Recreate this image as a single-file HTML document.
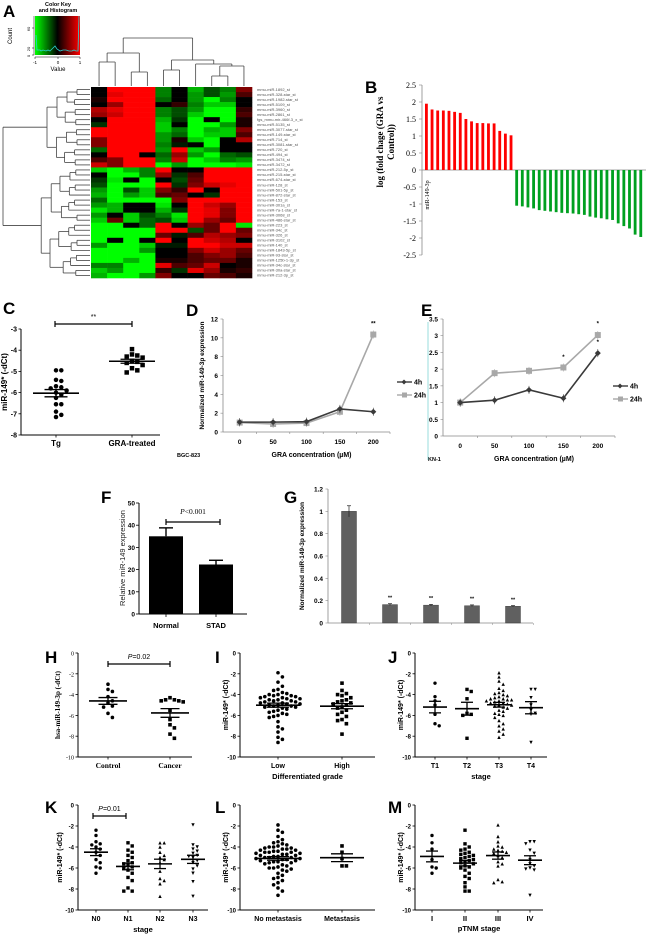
<!DOCTYPE html>
<html><head><meta charset="utf-8"><style>
html,body{margin:0;padding:0;background:#fff;}
svg{display:block;font-family:"Liberation Sans",sans-serif;}
</style></head><body>
<svg id="fig" width="650" height="935" viewBox="0 0 650 935" xmlns="http://www.w3.org/2000/svg"></svg>
<script>
// ===== DATA =====
const heatRows=["mmu-miR-1892_st","mmu-miR-328-star_st","mmu-miR-1982-star_st","mmu-miR-5109_st","mmu-miR-3960_st","mmu-miR-2861_st","fgs_mmu-mir-466f-3_x_st","mmu-miR-5135_st","mmu-miR-3077-star_st","mmu-miR-149-star_st","mmu-miR-714_st","mmu-miR-3081-star_st","mmu-miR-720_st","mmu-miR-494_st","mmu-miR-3474_st","mmu-miR-3472_st","mmu-miR-212-5p_st","mmu-miR-215-star_st","mmu-miR-674-star_st","mmu-miR-128_st","mmu-miR-501-5p_st","mmu-miR-872-star_st","mmu-miR-153_st","mmu-miR-301a_st","mmu-miR-7a-1-star_st","mmu-miR-3068_st","mmu-miR-486-star_st","mmu-miR-223_st","mmu-miR-34c_st","mmu-miR-326_st","mmu-miR-3102_st","mmu-miR-140_st","mmu-miR-1843-5p_st","mmu-miR-93-star_st","mmu-miR-125b-1-3p_st","mmu-miR-34c-star_st","mmu-miR-30a-star_st","mmu-miR-212-3p_st"];
const heatVals=[
[0,1,1,1,-.5,0,-.7,-.3,-.5,.5],[0,.9,1,1,-.5,0,-.6,-.3,-.6,.3],[.1,1,1,1,-.4,0,-.6,-1,-.5,0],[0,.6,1,1,0,.2,-.5,-.8,-.8,0],
[.7,.9,1,1,-.5,-.3,-.6,-1,-1,.2],[.6,.8,1,1,-.5,-.3,-.8,-1,-1,.3],[0,1,1,1,-.7,-.2,-1,0,-1,.1],[-.2,1,1,1,-.8,0,-1,-1,-.6,.1],
[1,1,1,1,-.8,-.5,-1,-.7,-.8,.5],[1,1,1,1,-.6,-.4,-1,-.8,-.8,.3],[.5,1,1,1,-.6,.1,-.8,-1,0,.7],[.5,1,1,1,-.5,-.1,0,-1,0,0],
[-.4,1,1,1,-.6,1,-.8,-.6,0,0],[0,1,1,0,-.4,.6,-.6,-1,-.4,-.3],[.3,.5,1,1,-.5,.8,-1,-.8,-.5,-.6],[.8,.5,1,1,-1,-.6,-1,-1,-1,-.9],
[-.8,-1,-.7,-.5,1,0,0,1,1,1],[0,-1,-1,-.5,.6,-.2,.3,1,1,1],[-.2,-.9,0,-1,0,-.3,.4,1,1,1],[-.3,-1,-1,-1,1,-.2,.5,.8,.9,1],
[-.6,-1,-.3,-.8,.5,.2,1,0,1,1],[-.7,-1,-.6,-.8,.3,.4,0,-.2,1,1],[-.4,-1,-1,-1,-1,.5,1,1,1,1],[-.6,-.7,0,0,-.9,0,1,.8,.6,1],
[-.9,-.7,0,0,-.7,-.2,1,.9,.5,1],[-.6,0,-.8,-.3,-.5,-.9,1,.9,.5,1],[-.8,.4,-.8,-.4,-.3,-.8,1,.6,.4,1],[-1,-1,0,-.4,1,0,.6,.4,1,-.9],
[-1,-1,-1,-1,1,1,-.3,.4,1,.4],[-1,-1,-1,-1,.4,-.1,.3,.7,.6,.5],[-1,0,-1,0,1,0,1,.8,.7,0],[-.6,-1,-1,-.8,-.1,-.1,1,1,.8,.8],
[-1,-1,-1,-.6,0,0,.5,.8,.6,.4],[-1,-1,-1,-1,0,0,.3,.5,.6,.3],[-1,-1,-.7,-1,.1,.1,.3,.4,.4,.1],[-.5,-.5,-1,-1,.9,.3,.4,.8,0,.1],
[-.8,-.6,-1,-1,.2,-.2,.9,.6,.1,.2],[-.7,-1,-1,-.6,.5,0,0,.4,.3,.1]];

const bRed=[1.95,1.78,1.75,1.75,1.74,1.71,1.68,1.5,1.43,1.38,1.38,1.37,1.37,1.15,1.07,1.02];
const bGreen=[-1.05,-1.07,-1.1,-1.13,-1.18,-1.2,-1.22,-1.24,-1.26,-1.27,-1.28,-1.3,-1.32,-1.37,-1.4,-1.42,-1.45,-1.47,-1.57,-1.65,-1.72,-1.9,-1.97];
const bTicks=[2.5,2,1.5,1,0.5,0,-0.5,-1,-1.5,-2,-2.5];

const cTg=[-4.95,-4.95,-5.4,-5.45,-5.7,-5.75,-5.8,-5.9,-6.0,-6.1,-6.25,-6.55,-6.55,-6.9,-7.05,-7.15];
const cGRA=[-3.95,-4.2,-4.25,-4.3,-4.35,-4.5,-4.55,-4.6,-4.7,-4.85,-4.95,-5.05];

const concCats=["0","50","100","150","200"];
const d4h=[1.05,1.05,1.1,2.45,2.15];
const d24h=[1.0,0.85,0.95,2.15,10.35];
const e4h=[1.0,1.07,1.38,1.13,2.48];
const e24h=[1.0,1.88,1.95,2.05,3.02];

const fCats=["Normal","STAD"];
const fVals=[35,22.3];
const fErr=[3.8,1.9];
const gVals=[1.0,0.165,0.16,0.155,0.15];
const gErr=[0.05,0.008,0.007,0.007,0.006];

const hControl=[-3.0,-3.5,-3.7,-4.2,-4.6,-4.8,-5.1,-5.2,-5.8,-6.2];
const hCancer=[-4.3,-4.5,-4.6,-4.7,-4.6,-4.5,-5.5,-6.4,-6.9,-7.2,-7.8,-8.2];
const iLow=[-1.9,-2.3,-2.8,-3.2,-3.5,-3.6,-3.8,-3.9,-4.0,-4.0,-4.1,-4.1,-4.2,-4.2,-4.3,-4.3,-4.4,-4.4,-4.5,-4.5,-4.6,-4.6,-4.7,-4.7,-4.8,-4.8,-4.9,-4.9,-5.0,-5.0,-5.1,-5.1,-5.2,-5.2,-5.3,-5.4,-5.5,-5.6,-5.7,-5.8,-5.9,-6.0,-6.1,-6.2,-6.6,-7.1,-7.3,-7.6,-8.1,-8.3,-8.6];
const iHigh=[-2.9,-3.6,-3.9,-4.0,-4.1,-4.3,-4.5,-4.6,-4.7,-4.8,-4.9,-5.0,-5.2,-5.3,-5.5,-5.7,-5.9,-6.1,-6.4,-6.5,-6.8,-7.8];
const jT1=[-2.9,-4.2,-4.6,-5.0,-5.9,-6.8,-7.0];
const jT2=[-3.5,-3.7,-4.4,-5.8,-5.9,-6.0,-8.2];
const jT3=[-1.9,-2.3,-2.7,-3.0,-3.4,-3.6,-3.8,-3.9,-4.0,-4.1,-4.2,-4.3,-4.4,-4.4,-4.5,-4.5,-4.6,-4.6,-4.7,-4.8,-4.8,-4.9,-5.0,-5.0,-5.1,-5.2,-5.3,-5.5,-5.6,-5.8,-5.9,-6.0,-6.2,-6.5,-6.8,-7.0,-7.3,-7.5,-7.8,-8.1];
const jT4=[-3.5,-3.5,-4.3,-5.0,-5.5,-5.8,-5.9,-8.6];
const kN0=[-2.4,-2.9,-3.5,-3.7,-3.8,-4.0,-4.2,-4.5,-4.8,-5.2,-5.5,-5.9,-6.0,-6.5];
const kN1=[-3.6,-3.9,-4.3,-4.5,-4.8,-5.0,-5.3,-5.5,-5.6,-5.7,-5.9,-6.0,-6.2,-6.5,-6.9,-7.2,-7.9,-8.2,-8.2];
const kN2=[-3.6,-3.6,-4.0,-4.5,-4.8,-5.0,-5.2,-5.5,-6.3,-7.0,-7.2,-7.5,-8.7];
const kN3=[-1.9,-3.8,-4.0,-4.2,-4.4,-4.6,-4.8,-4.9,-5.0,-5.3,-5.5,-5.8,-6.1,-6.5,-7.3,-8.7];
const lNoMet=[-1.9,-2.4,-2.6,-3.0,-3.3,-3.5,-3.6,-3.7,-3.8,-3.9,-4.0,-4.0,-4.1,-4.1,-4.2,-4.2,-4.3,-4.3,-4.4,-4.4,-4.5,-4.5,-4.5,-4.6,-4.6,-4.7,-4.7,-4.8,-4.8,-4.9,-4.9,-5.0,-5.0,-5.0,-5.1,-5.1,-5.2,-5.2,-5.3,-5.3,-5.4,-5.4,-5.5,-5.5,-5.6,-5.7,-5.8,-5.9,-6.0,-6.0,-6.1,-6.2,-6.3,-6.5,-6.7,-6.9,-7.0,-7.2,-7.4,-7.6,-7.9,-8.2,-8.6];
const lMet=[-3.9,-4.5,-5.1,-5.8,-5.8];
const mI=[-2.9,-3.6,-4.2,-5.2,-5.9,-6.0,-6.5];
const mII=[-2.4,-3.7,-4.0,-4.2,-4.3,-4.5,-4.6,-4.7,-4.8,-4.9,-5.0,-5.1,-5.2,-5.3,-5.4,-5.5,-5.6,-5.8,-5.9,-6.0,-6.2,-6.5,-6.8,-7.0,-7.4,-7.8,-8.2,-8.2];
const mIII=[-1.9,-3.0,-3.5,-3.9,-4.0,-4.2,-4.3,-4.4,-4.5,-4.6,-4.8,-5.0,-5.4,-5.6,-5.8,-7.1,-7.3,-7.4];
const mIV=[-3.5,-3.5,-3.7,-4.3,-4.6,-5.2,-5.6,-5.8,-6.0,-6.1,-6.2,-8.6];
const dctTicks=[0,-2,-4,-6,-8,-10];

// ===== HELPERS =====
const svg=document.getElementById('fig');
const NS='http://www.w3.org/2000/svg';
function mk(tag,attrs,parent,txt){const e=document.createElementNS(NS,tag);for(const k in attrs)e.setAttribute(k,attrs[k]);if(txt!==undefined)e.textContent=txt;(parent||svg).appendChild(e);return e;}
function grp(name){const g=mk('g',{});return g;}
function line(g,x1,y1,x2,y2,c,w){return mk('line',{x1,y1,x2,y2,stroke:c||'#000','stroke-width':w||1},g);}
function text(g,x,y,s,opt){opt=opt||{};const t=mk('text',{x,y,'font-size':opt.size||7,'font-weight':opt.bold===false?'normal':'bold','text-anchor':opt.anchor||'middle',fill:opt.fill||'#000','font-family':opt.serif?'"Liberation Serif",serif':'"Liberation Sans",sans-serif','font-style':opt.italic?'italic':'normal'},g,s);if(opt.rot)t.setAttribute('transform',`rotate(-90 ${x} ${y})`);return t;}
function letter(g,x,y,s){const t=text(g,x,y,s,{size:17,anchor:'start'});}
function scale(d0,d1,p0,p1){return v=>p0+(v-d0)*(p1-p0)/(d1-d0);}

// ===== PANEL A =====
(function(){
  const g=grp('panel-a-heatmap');
  letter(g,3,17,'A');
  const hx0=91,hx1=252,hy0=87,hy1=278;
  const cw=(hx1-hx0)/10,rh=(hy1-hy0)/heatRows.length;
  heatVals.forEach((row,r)=>row.forEach((v,c)=>{
    const col=v>=0?`rgb(${Math.round(255*v)},0,0)`:`rgb(0,${Math.round(-255*v)},0)`;
    const rc=mk('rect',{x:hx0+c*cw,y:hy0+r*rh,width:cw+0.3,height:rh+0.3,fill:col},g);
    
    
  }));
  heatRows.forEach((n,r)=>{const t=text(g,257,hy0+(r+0.75)*rh,n,{size:4,bold:false,anchor:'start',fill:'#555'});});
  const cx=c=>hx0+(c+0.5)*cw;
  const dg=grp('column-dendrogram');
  function u(x1,x2,y,y1,y2){line(dg,x1,y1,x1,y,'#444',0.8);line(dg,x2,y2,x2,y,'#444',0.8);line(dg,x1,y,x2,y,'#444',0.8);}
  const yb=86;
  u(cx(0),cx(1),62,yb,yb);u(cx(2),cx(3),72,yb,yb);u((cx(0)+cx(1))/2,(cx(2)+cx(3))/2,53,62,72);
  u(cx(4),cx(5),70,yb,yb);u(cx(7),cx(8),76,yb,yb);u((cx(7)+cx(8))/2,cx(9),66,76,yb);u(cx(6),((cx(7)+cx(8))/2+cx(9))/2,64,yb,66);
  const rl=(cx(4)+cx(5))/2,rr=(cx(6)+((cx(7)+cx(8))/2+cx(9))/2)/2;
  u(rl,rr,60,70,64);
  u(((cx(0)+cx(1))/2+(cx(2)+cx(3))/2)/2,(rl+rr)/2,38,53,60);
  // row dendrogram
  const rg=grp('row-dendrogram');
  const ry=r=>hy0+(r+0.5)*rh;
  function build(lo,hi){
    if(lo===hi)return [ry(lo),hx0-1];
    const mid=Math.floor((lo+hi)/2);
    const a=build(lo,mid),b=build(mid+1,hi);
    const size=hi-lo+1;
    const xx=hx0-4-10*Math.log2(size)-((lo*7)%5)*0.6;
    line(rg,a[1],a[0],xx,a[0],'#444',0.8);line(rg,b[1],b[0],xx,b[0],'#444',0.8);line(rg,xx,a[0],xx,b[0],'#444',0.8);
    return [(a[0]+b[0])/2,xx];
  }
  const top=build(0,15),bot=build(16,37);
  line(rg,top[1],top[0],3,top[0],'#444',0.8);line(rg,bot[1],bot[0],3,bot[0],'#444',0.8);line(rg,3,top[0],3,bot[0],'#444',0.8);
  const kg=grp('color-key');
  const defs=mk('defs',{},kg);const lg=mk('linearGradient',{id:'kg',x1:0,x2:1,y1:0,y2:0},defs);
  mk('stop',{offset:0,'stop-color':'#00ff00'},lg);mk('stop',{offset:0.5,'stop-color':'#000'},lg);mk('stop',{offset:1,'stop-color':'#ff0000'},lg);
  mk('rect',{x:35,y:16,width:45,height:39,fill:'url(#kg)'},kg);
  mk('polyline',{points:'36,35 37,50 40,50 41,51 43,50 46,51 48,50 50,51 52,49 55,46 57,49 60,51 63,50 66,50 69,51 72,51 74,50 76,51 78,51 79,16',fill:'none',stroke:'#2bd1d1','stroke-width':0.8},kg);
  text(kg,58,6,'Color Key',{size:5.5});text(kg,58,12,'and Histogram',{size:5.5});
  line(kg,34,16,34,55,'#000',0.5);[['0',55],['20',48],['60',28]].forEach(([s,y])=>{text(kg,30,y+1,s,{size:4,bold:false,rot:true});line(kg,32,y,34,y,'#000',0.5);});
  text(kg,12,36,'Count',{size:6,bold:false,rot:true});
  line(kg,35,57,80,57,'#000',0.5);[['-1',35],['0',58],['1',80]].forEach(([s,x])=>{line(kg,x,57,x,59,'#000',0.5);text(kg,x,64,s,{size:4.5,bold:false});});
  text(kg,58,71,'Value',{size:6,bold:false});
})();

// ===== PANEL B =====
(function(){
  const g=grp('panel-b-fold-change');
  letter(g,365,93,'B');
  const y=scale(-2.5,2.5,255,85),ax=422;
  line(g,ax,85,ax,255,'#888',0.8);line(g,ax,y(0),646,y(0),'#888',0.8);
  bTicks.forEach(t=>{line(g,ax-3,y(t),ax,y(t),'#888',0.6);text(g,ax-6,y(t)+3,String(t),{size:8,bold:false,serif:true,anchor:'end'});});
  const all=bRed.concat(bGreen),step=(645-425)/all.length;
  all.forEach((v,i)=>{const x=425+i*step;const r=mk('rect',{x:x,y:Math.min(y(0),y(v)),width:step*0.5,height:Math.abs(y(v)-y(0)),fill:v>0?'#ff0000':'#00a020'},g);});
  text(g,383,142,'log (fold chage (GRA vs',{size:9,serif:true,rot:true});
  text(g,394,142,'Control))',{size:9,serif:true,rot:true});
  text(g,429,195,'miR-149-3p',{size:6,bold:false,serif:true,rot:true});
})();

// ===== dot plot helper =====
function swarm(vals,cx,ys,d){
  const pts=[];vals.slice().sort((a,b)=>b-a).forEach(v=>{const py=ys(v);let k=0,px;
    while(true){const off=(k%2?1:-1)*Math.ceil(k/2)*d;px=cx+off;if(!pts.some(p=>Math.hypot(p[0]-px,p[1]-py)<d-0.2))break;k++;if(k>40)break;}
    pts.push([px,py]);});return pts;}
function marker(g,shape,x,y,s){let e;
  if(shape==='c')e=mk('circle',{cx:x,cy:y,r:s/2,fill:'#000'},g);
  else if(shape==='s')e=mk('rect',{x:x-s/2,y:y-s/2,width:s,height:s,fill:'#000'},g);
  else if(shape==='t')e=mk('polygon',{points:`${x},${y-s/2} ${x-s/2},${y+s/2} ${x+s/2},${y+s/2}`,fill:'#000'},g);
  else e=mk('polygon',{points:`${x},${y+s/2} ${x-s/2},${y-s/2} ${x+s/2},${y-s/2}`,fill:'#000'},g);
  }
function meanSem(g,vals,cx,ys,hw){const n=vals.length,m=vals.reduce((a,b)=>a+b,0)/n;
  const sd=Math.sqrt(vals.reduce((a,b)=>a+(b-m)*(b-m),0)/(n-1)),se=sd/Math.sqrt(n);
  line(g,cx-hw,ys(m),cx+hw,ys(m),'#000',1.6);line(g,cx-hw*0.5,ys(m+se),cx+hw*0.5,ys(m+se),'#000',1.3);line(g,cx-hw*0.5,ys(m-se),cx+hw*0.5,ys(m-se),'#000',1.3);line(g,cx,ys(m+se),cx,ys(m-se),'#000',1.3);}
function dotPanel(o){
  const g=grp(o.name);letter(g,o.lx,o.ly,o.letter);
  const ys=scale(o.ymin,o.ymax,o.yb,o.yt);
  line(g,o.ax,o.yt,o.ax,o.yb,'#000',1);line(g,o.ax,o.yb,o.axEnd,o.yb,'#000',1);
  o.ticks.forEach(t=>{line(g,o.ax-2.5,ys(t),o.ax,ys(t),'#000',0.8);text(g,o.ax-4,ys(t)+2.5,String(t),{size:o.tickSize||6,bold:!o.serif,serif:o.serif,anchor:'end'});});
  o.groups.forEach(gr=>{
    line(g,gr.x,o.yb,gr.x,o.yb+2.5,'#000',0.8);
    text(g,gr.x,o.yb+o.labOff,gr.label,{size:o.labSize||7,serif:o.serif});
    swarm(gr.vals,gr.x,ys,o.ms+0.8).forEach(p=>marker(g,gr.shape,p[0],p[1],o.ms));
    meanSem(g,gr.vals,gr.x,ys,o.hw);
  });
  if(o.xtitle)text(g,(o.ax+o.axEnd)/2,o.yb+o.titOff,o.xtitle,{size:7.5});
  text(g,o.ylx,(o.yt+o.yb)/2,o.ylabel,{size:o.ylSize||7,serif:o.serif,rot:true});
  if(o.sig){line(g,o.sig[0],o.sig[2],o.sig[1],o.sig[2],'#000',1.2);line(g,o.sig[0],o.sig[2]-3,o.sig[0],o.sig[2]+3,'#000',1.2);line(g,o.sig[1],o.sig[2]-3,o.sig[1],o.sig[2]+3,'#000',1.2);
    const t=text(g,(o.sig[0]+o.sig[1])/2,o.sig[2]-5,'',{size:7,bold:false});
    if(o.sigP){mk('tspan',{'font-style':'italic'},t,'P');mk('tspan',{},t,o.sigText);}else t.textContent=o.sigText;}
  return g;
}

dotPanel({name:'panel-c',letter:'C',lx:3,ly:314,ax:21,axEnd:160,yt:329,yb:435,ymin:-8,ymax:-3,ticks:[-3,-4,-5,-6,-7,-8],tickSize:7,
  groups:[{x:56,label:'Tg',vals:cTg,shape:'c'},{x:132,label:'GRA-treated',vals:cGRA,shape:'s'}],ms:4.5,hw:23,labOff:11,labSize:8,
  ylx:7,ylabel:'miR-149* (-dCt)',ylSize:8,sig:[55,132,324],sigText:'**'});

function linePanel(o){
  const g=grp(o.name);letter(g,o.lx,o.ly,o.letter);
  const ys=scale(0,o.ymax,o.yb,o.yt);
  line(g,o.ax,o.yt,o.ax,o.yb,'#888',0.8);line(g,o.ax,o.yb,o.axEnd,o.yb,'#888',0.8);
  o.ticks.forEach(t=>{line(g,o.ax-2.5,ys(t),o.ax,ys(t),'#888',0.6);text(g,o.ax-5,ys(t)+2.5,String(t),{size:6.5,anchor:'end'});});
  const step=(o.axEnd-o.ax)/concCats.length;const xs=i=>o.ax+step*(i+0.5);
  concCats.forEach((c,i)=>{line(g,o.ax+step*(i+1),o.yb,o.ax+step*(i+1),o.yb+2,'#888',0.6);text(g,xs(i),o.yb+12,c,{size:6.5});});
  [[o.s24,'#a8a8a8','s'],[o.s4,'#3a3a3a','d']].forEach(([vals,col,sh])=>{
    const pl=mk('polyline',{points:vals.map((v,i)=>xs(i)+','+ys(v)).join(' '),fill:'none',stroke:col,'stroke-width':1.6},g);
    
    vals.forEach((v,i)=>{const x=xs(i),y=ys(v);const m=sh==='s'?mk('rect',{x:x-3,y:y-3,width:6,height:6,fill:col},g):mk('polygon',{points:`${x},${y-3} ${x+3},${y} ${x},${y+3} ${x-3},${y}`,fill:col},g);
      
      line(g,x,y-4,x,y+4,col,0.6);});
  });
  o.stars.forEach(([i,v,s])=>text(g,xs(i),ys(v),s,{size:6}));
  text(g,(o.ax+o.axEnd)/2+5,o.yb+25,'GRA concentration (µM)',{size:7});
  text(g,o.cellX,o.yb+25,o.cell,{size:5.5,anchor:'start'});
  const lgd=grp('legend');
  line(lgd,o.legX,o.legY,o.legX+15,o.legY,'#3a3a3a',1.4);mk('polygon',{points:`${o.legX+7},${o.legY-2.5} ${o.legX+9.5},${o.legY} ${o.legX+7},${o.legY+2.5} ${o.legX+4.5},${o.legY}`,fill:'#3a3a3a'},lgd);
  text(lgd,o.legX+17,o.legY+2.5,'4h',{size:7,anchor:'start'});
  line(lgd,o.legX,o.legY+13,o.legX+15,o.legY+13,'#a8a8a8',1.4);mk('rect',{x:o.legX+5,y:o.legY+10.5,width:5,height:5,fill:'#a8a8a8'},lgd);
  text(lgd,o.legX+17,o.legY+15.5,'24h',{size:7,anchor:'start'});
  if(o.ylabel)text(g,o.ylx,(o.yt+o.yb)/2,o.ylabel,{size:6.5,rot:true});
}
linePanel({name:'panel-d',letter:'D',lx:186,ly:316,ax:223,axEnd:390,yt:319,yb:432,ymax:12,ticks:[0,2,4,6,8,10,12],s4:d4h,s24:d24h,
  stars:[[4,11.3,'**']],cell:'BGC-823',cellX:177,legX:397,legY:382,ylabel:'Normalized miR-149-3p expression',ylx:204});
linePanel({name:'panel-e',letter:'E',lx:421,ly:316,ax:443,axEnd:615,yt:319,yb:436,ymax:3.5,ticks:[0,0.5,1,1.5,2,2.5,3,3.5],s4:e4h,s24:e24h,
  stars:[[3,2.3,'*'],[4,3.3,'*'],[4,2.75,'*']],cell:'KN-1',cellX:428,legX:613,legY:386});
line(svg,428,322,428,460,'#7fd4d4',0.8);

(function(){
  const g=grp('panel-f');letter(g,101,503,'F');
  const ys=scale(0,50,614,503),ax=139;
  line(g,ax,503,ax,614,'#000',1);line(g,ax,614,247,614,'#000',1);
  [0,10,20,30,40,50].forEach(t=>{line(g,ax-3,ys(t),ax,ys(t),'#000',0.8);text(g,ax-4,ys(t)+2.5,String(t),{size:6.5,anchor:'end'});});
  const xs=[166,216];
  fCats.forEach((c,i)=>{const r=mk('rect',{x:xs[i]-17,y:ys(fVals[i]),width:34,height:614-ys(fVals[i]),fill:'#000'},g);
    
    line(g,xs[i],ys(fVals[i]),xs[i],ys(fVals[i]+fErr[i]),'#000',1.4);line(g,xs[i]-7,ys(fVals[i]+fErr[i]),xs[i]+7,ys(fVals[i]+fErr[i]),'#000',1.4);
    line(g,xs[i],614,xs[i],617,'#000',0.8);text(g,xs[i],628,c,{size:7.5});});
  line(g,166,522,220,522,'#000',1.2);line(g,166,519,166,525,'#000',1.2);line(g,220,519,220,525,'#000',1.2);
  const t=text(g,193,514,'',{size:7.5,bold:false,serif:true});mk('tspan',{'font-style':'italic'},t,'P');mk('tspan',{},t,'<0.001');
  text(g,125,558,'Relative miR-149 expression',{size:7.5,bold:false,rot:true,fill:'#222'});
})();

(function(){
  const g=grp('panel-g');letter(g,284,503,'G');
  const ys=scale(0,1.2,623,489),ax=328;
  line(g,ax,489,ax,623,'#888',0.8);line(g,ax,623,533,623,'#888',0.8);
  [0,0.2,0.4,0.6,0.8,1,1.2].forEach(t=>{line(g,ax-2.5,ys(t),ax,ys(t),'#888',0.6);text(g,ax-5,ys(t)+2.5,String(t),{size:6.5,anchor:'end'});});
  gVals.forEach((v,i)=>{const x=349+i*41;
    const r=mk('rect',{x:x-7.5,y:ys(v),width:15,height:623-ys(v),fill:'#606060',stroke:'#333','stroke-width':0.4},g);
    
    line(g,x,ys(v+gErr[i]),x,ys(v-gErr[i]),'#222',0.7);line(g,x-2,ys(v+gErr[i]),x+2,ys(v+gErr[i]),'#222',0.7);
    if(i>0)text(g,x,ys(v)-5,'**',{size:5.5});
    line(g,x+20.5,623,x+20.5,625,'#888',0.5);});
  text(g,304,556,'Normalized miR-149-3p expression',{size:6.5,rot:true});
})();

const r1={yt:653,yb:757},r2={yt:805,yb:910};
dotPanel({name:'panel-h',letter:'H',lx:45,ly:663,ax:78,axEnd:192,...r1,ymin:-10,ymax:0,ticks:dctTicks,serif:true,
  groups:[{x:108,label:'Control',vals:hControl,shape:'c'},{x:170,label:'Cancer',vals:hCancer,shape:'s'}],ms:3.6,hw:19,labOff:11,labSize:7.5,
  ylx:60,ylabel:'hsa-miR-149-3p (-dCt)',ylSize:7,sig:[108,170,664],sigText:'=0.02',sigP:true});
dotPanel({name:'panel-i',letter:'I',lx:215,ly:663,ax:240,axEnd:375,...r1,ymin:-10,ymax:0,ticks:dctTicks,
  groups:[{x:278,label:'Low',vals:iLow,shape:'c'},{x:342,label:'High',vals:iHigh,shape:'s'}],ms:3.6,hw:22,labOff:11,
  xtitle:'Differentiated grade',titOff:22,ylx:228,ylabel:'miR-149* (-dCt)'});
dotPanel({name:'panel-j',letter:'J',lx:388,ly:663,ax:415,axEnd:547,...r1,ymin:-10,ymax:0,ticks:dctTicks,
  groups:[{x:435,label:'T1',vals:jT1,shape:'c'},{x:467,label:'T2',vals:jT2,shape:'s'},{x:499,label:'T3',vals:jT3,shape:'t'},{x:531,label:'T4',vals:jT4,shape:'v'}],ms:3.4,hw:12,labOff:11,
  xtitle:'stage',titOff:22,ylx:403,ylabel:'miR-149* (-dCt)'});
dotPanel({name:'panel-k',letter:'K',lx:45,ly:813,ax:78,axEnd:208,...r2,ymin:-10,ymax:0,ticks:dctTicks,
  groups:[{x:96,label:'N0',vals:kN0,shape:'c'},{x:128,label:'N1',vals:kN1,shape:'s'},{x:160,label:'N2',vals:kN2,shape:'t'},{x:193,label:'N3',vals:kN3,shape:'v'}],ms:3.4,hw:12,labOff:11,
  xtitle:'stage',titOff:22,ylx:62,ylabel:'miR-149* (-dCt)',sig:[93,126,816],sigText:'=0.01',sigP:true});
dotPanel({name:'panel-l',letter:'L',lx:215,ly:813,ax:240,axEnd:375,...r2,ymin:-10,ymax:0,ticks:dctTicks,
  groups:[{x:278,label:'No metastasis',vals:lNoMet,shape:'c'},{x:342,label:'Metastasis',vals:lMet,shape:'s'}],ms:3.6,hw:22,labOff:11,
  ylx:228,ylabel:'miR-149* (-dCt)'});
dotPanel({name:'panel-m',letter:'M',lx:388,ly:813,ax:415,axEnd:543,...r2,ymin:-10,ymax:0,ticks:dctTicks,
  groups:[{x:432,label:'I',vals:mI,shape:'c'},{x:465,label:'II',vals:mII,shape:'s'},{x:498,label:'III',vals:mIII,shape:'t'},{x:530,label:'IV',vals:mIV,shape:'v'}],ms:3.4,hw:12,labOff:11,labSize:7.5,
  xtitle:'pTNM stage',titOff:21,ylx:403,ylabel:'miR-149* (-dCt)'});
</script>
</body></html>
